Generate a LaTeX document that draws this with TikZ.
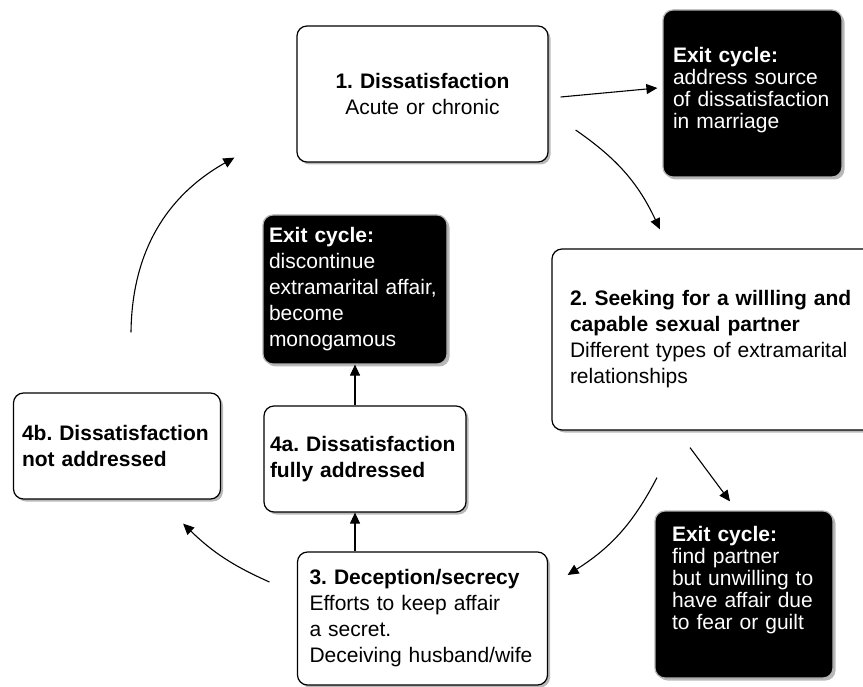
\documentclass[tikz,border=0pt]{standalone}
\usepackage{fontspec}
\setmainfont{Liberation Sans}
\usetikzlibrary{arrows.meta,shadows}
\frenchspacing

\begin{document}
\begin{tikzpicture}[x=1pt,y=-1pt,
    box/.style={draw, line width=1.2pt, rounded corners=10pt, fill=white,
      drop shadow={shadow xshift=2.5pt, shadow yshift=-2.5pt, opacity=0.55},
      inner ysep=0pt, align=left, font=\fontsize{21}{26}\selectfont},
    exitbox/.style={box, draw=black!30, fill=black, text=white,
      font=\fontsize{21}{22}\selectfont},
    arr/.style={-{Triangle[length=11pt,width=10pt]}, line width=1.1pt}]
  \useasboundingbox (0,0) rectangle (863,687);
  \clip (0,0) rectangle (863,687);
  % stages of the cycle
  \node[box, align=center, text width=231pt, inner xsep=10pt, minimum height=136pt] (one) at (422.5,94)
    {\textbf{1. Dissatisfaction}\\Acute or chronic};
  \node[box, text width=294pt, inner xsep=18pt, minimum height=181pt] (two) at (717,339.5)
    {\textbf{2. Seeking for a willling and}\\\textbf{capable sexual partner}\\Different types of extramarital\\relationships};
  \node[box, text width=226pt, inner xsep=12pt, minimum height=133pt] (three) at (422.5,618.5)
    {\textbf{3. Deception/secrecy}\\Efforts to keep affair\\a secret.\\Deceiving husband/wife};
  \node[box, text width=190pt, inner xsep=6pt, minimum height=106pt] (fourA) at (365,459)
    {\textbf{4a. Dissatisfaction}\\\textbf{fully addressed}};
  \node[box, text width=190pt, inner xsep=8.5pt, minimum height=106pt] (fourB) at (117,446)
    {\textbf{4b. Dissatisfaction}\\\textbf{not addressed}};
  % ways out
  \node[exitbox, text width=159pt, inner xsep=10pt, minimum height=167pt, text depth=77pt] (exA) at (752.5,93.5)
    {\textbf{Exit cycle:}\\address source\\of dissatisfaction\\in marriage};
  \node[exitbox, text width=172pt, inner xsep=6pt, minimum height=149pt,
    font=\fontsize{21}{26}\selectfont] (exB) at (355,289.5)
    {\textbf{Exit cycle:}\\discontinue\\extramarital affair,\\become\\monogamous};
  \node[exitbox, text width=144pt, inner xsep=17pt, minimum height=167pt, text depth=122pt] (exC) at (744,594.5)
    {\textbf{Exit cycle:}\\find partner\\but unwilling to\\have affair due\\to fear or guilt};
  % arrows
  \draw[arr] ([shift={(12,3)}]one.east) -- ([shift={(-5,-5.5)}]exA.west);
  \draw[arr] ([shift={(27,36)}]one.east) to[bend left=15] ([shift={(-57,-19)}]two.north);
  \draw[arr] ([shift={(-27,17)}]two.south) -- ([shift={(-14,-9)}]exC.north);
  \draw[arr] ([shift={(-60,47)}]two.south) to[bend left=15] ([shift={(19.5,-43.5)}]three.east);
  \draw[arr] ([shift={(-27.5,-36.5)}]three.west) to[bend left=10] ([shift={(-38,24)}]fourB.south east);
  \draw[arr] (three.north -| exB.south) -- (fourA.south -| exB.south);
  \draw[arr] (fourA.north -| exB.south) -- (exB.south);
  \draw[arr] ([shift={(14,-60)}]fourB.north) to[bend left=30] ([shift={(-62,-5)}]one.south west);
\end{tikzpicture}
\end{document}
